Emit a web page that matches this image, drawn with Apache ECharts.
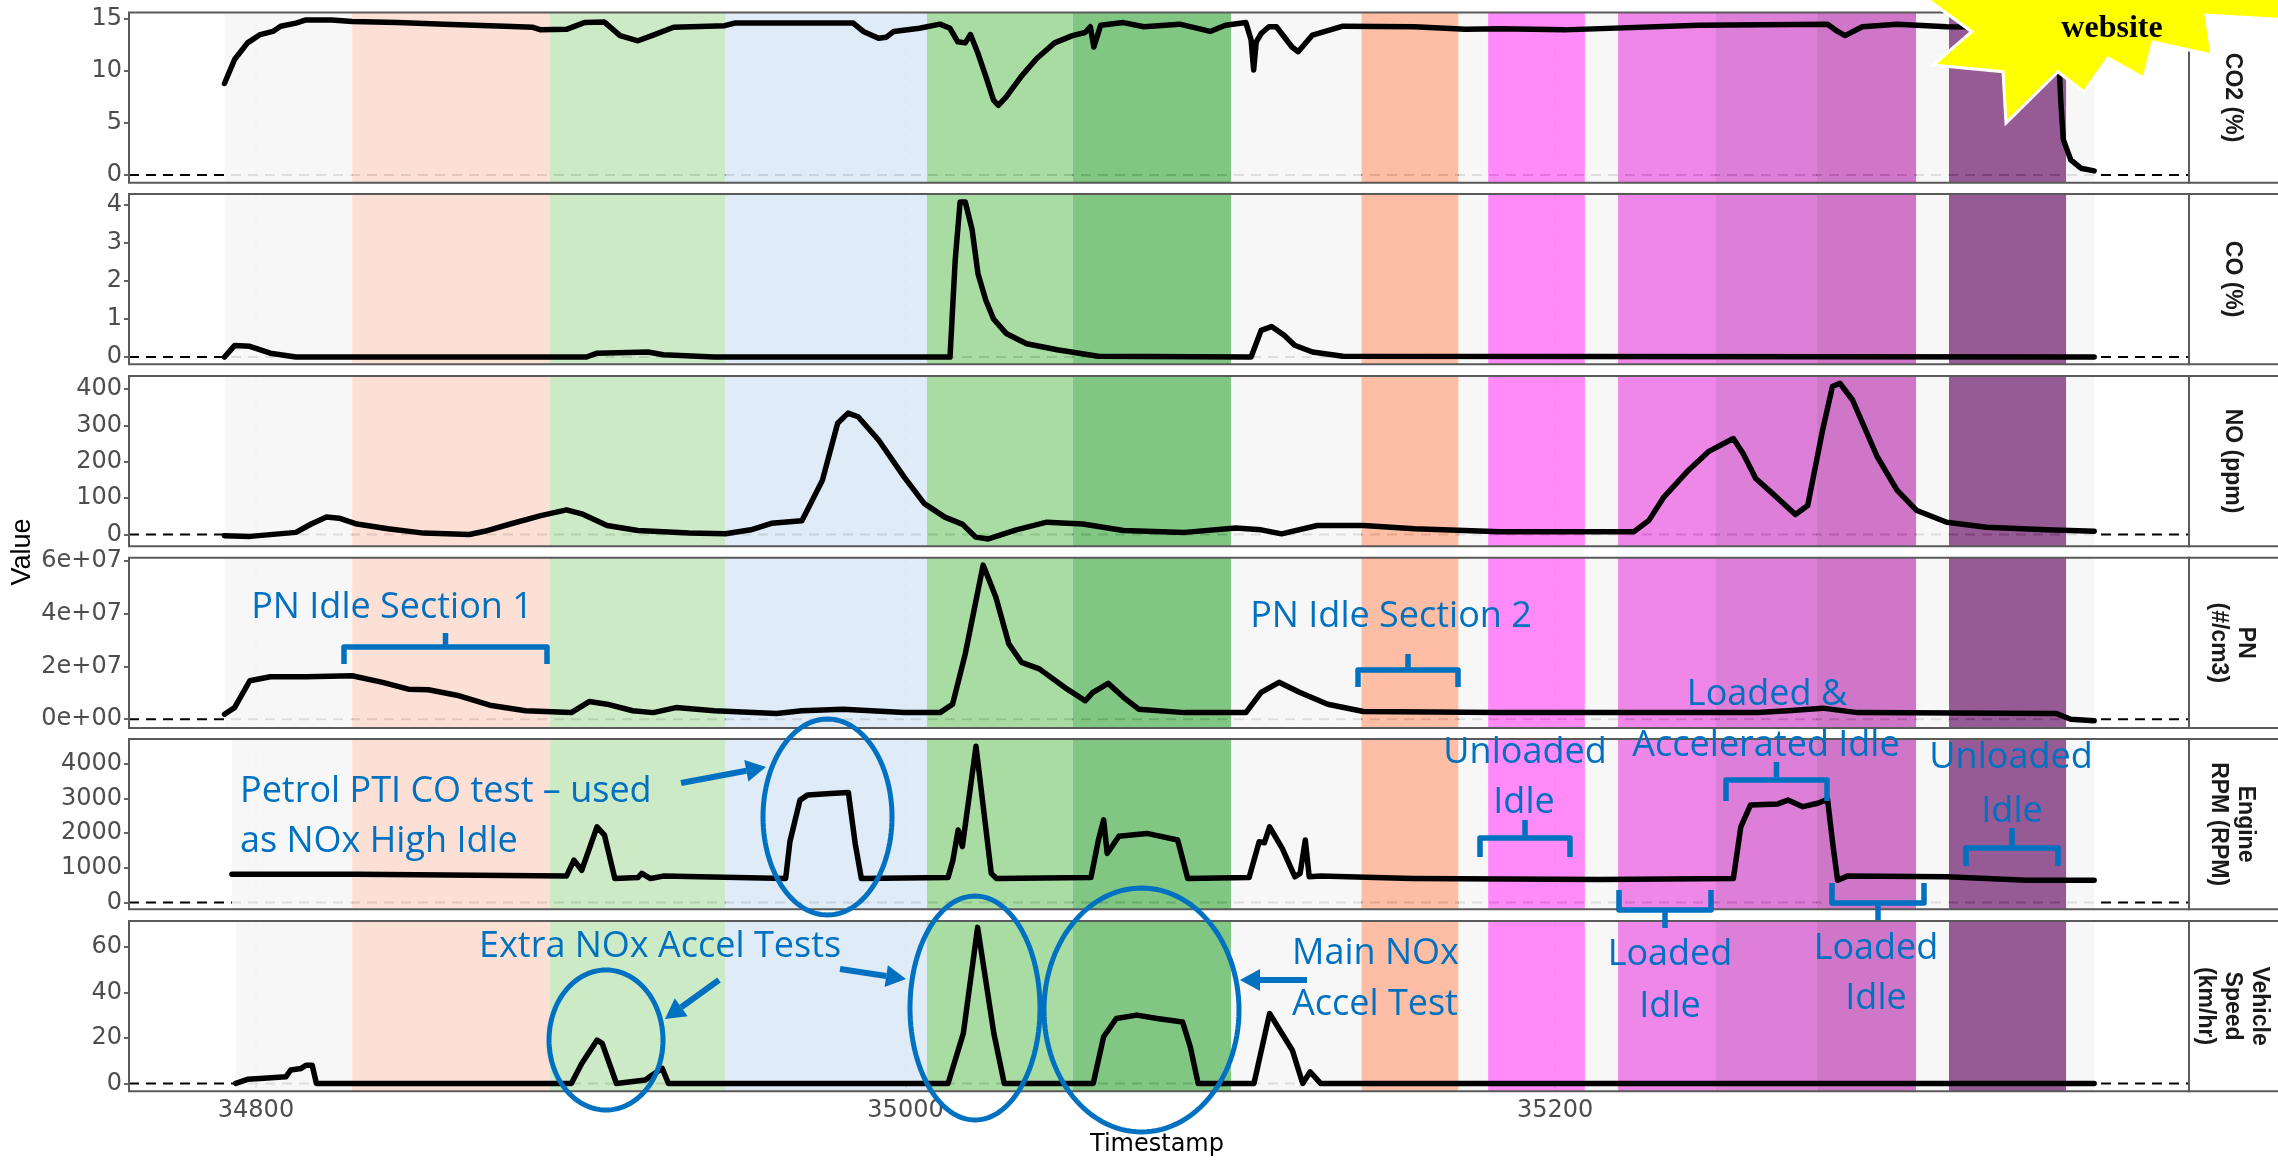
<!DOCTYPE html>
<html>
<head>
<meta charset="utf-8">
<title>Emissions test trace</title>
<script src="https://cdn.jsdelivr.net/npm/echarts@6.0.0/dist/echarts.min.js"></script>
<style>
  html, body { margin: 0; padding: 0; background: #ffffff; }
  #chart { width: 2278px; height: 1161px; }
</style>
</head>
<body>
<div id="chart"></div>
<script>
// ---------- data ----------
const timeRange = [34760.9, 35395.2];
const timeTicks = [34800, 35000, 35200];

// test phases (timestamp start / end) and their fills
const phaseStart = [34829.6, 34890.5, 34944.6, 35006.6, 35051.5, 35140.4, 35179.4, 35219.4, 35249.3, 35280.4, 35321.3];
const phaseEnd   = [34890.5, 34944.6, 35006.6, 35051.5, 35100.3, 35170.3, 35209.2, 35249.3, 35280.4, 35311.2, 35357.4];
const phaseColor = ['#FDDDD0', '#C6E8BF', '#DBE9F6', '#9FD898', '#73C176', '#FDB79B', '#FF7DF7', '#ED7AE5', '#D970D4', '#CB67C2', '#8B488A'];
const gapColor = '#F6F6F6';

// [timestamp, value]
const co2 = [
  [34790.3, 8.8], [34793.4, 11.1], [34797.4, 12.7], [34801.3, 13.5], [34805.2, 13.8], [34807.6, 14.3],
  [34812.3, 14.6], [34815.4, 14.9], [34823.3, 14.9], [34829.6, 14.75], [34843.7, 14.65], [34857.9, 14.5],
  [34876.7, 14.3], [34885.3, 14.2], [34887.7, 13.95], [34895.6, 14.0], [34901.1, 14.65], [34907.3, 14.7],
  [34912.1, 13.4], [34917.6, 12.9], [34922.3, 13.45], [34928.6, 14.2], [34944.3, 14.35], [34947.4, 14.6],
  [34983.9, 14.6], [34987.0, 13.8], [34991.7, 13.15], [34994.1, 13.25], [34996.4, 13.8], [35004.3, 14.1],
  [35010.6, 14.5], [35013.7, 14.1], [35016.1, 12.8], [35018.4, 12.7], [35020.0, 13.5], [35022.3, 11.7],
  [35024.7, 9.5], [35027.1, 7.2], [35028.6, 6.7], [35031.0, 7.5], [35035.7, 9.5], [35040.4, 11.2],
  [35045.9, 12.7], [35051.4, 13.4], [35055.3, 13.7], [35056.9, 14.25], [35058.0, 12.3], [35060.1, 14.4],
  [35067.1, 14.65], [35073.4, 14.25], [35084.4, 14.5], [35093.8, 13.8], [35098.5, 14.4], [35104.8, 14.65],
  [35106.4, 13.0], [35107.2, 10.1], [35108.0, 12.8], [35109.5, 13.6], [35111.9, 14.25], [35114.2, 14.25],
  [35119.0, 12.3], [35120.9, 11.85], [35125.3, 13.45], [35134.7, 14.3], [35156.7, 14.25], [35172.4, 14.0],
  [35183.1, 14.05], [35202.9, 13.95], [35244.2, 14.4], [35283.9, 14.5], [35287.0, 13.8], [35289.3, 13.4],
  [35294.6, 14.25], [35305.3, 14.5], [35320.6, 14.25], [35343.5, 14.2], [35353.5, 14.0], [35355.0, 12.0],
  [35355.7, 7.2], [35356.5, 3.4], [35358.8, 1.45], [35361.9, 0.65], [35366.0, 0.4]
];
const co = [
  [34790.3, 0.0], [34793.4, 0.3], [34798.1, 0.28], [34804.4, 0.1], [34812.3, 0.0], [34901.8, 0.0],
  [34905.0, 0.1], [34920.7, 0.13], [34925.4, 0.06], [34941.1, 0.0], [35013.7, 0.0], [35015.3, 2.55],
  [35016.8, 4.08], [35018.4, 4.08], [35020.5, 3.35], [35022.3, 2.2], [35024.7, 1.5], [35027.1, 1.0],
  [35031.0, 0.62], [35037.3, 0.35], [35046.7, 0.19], [35059.3, 0.02], [35106.4, 0.0], [35109.5, 0.7],
  [35112.7, 0.8], [35116.6, 0.57], [35119.8, 0.31], [35125.3, 0.13], [35134.7, 0.02], [35366.0, 0.0]
];
const no = [
  [34790.3, -3], [34798.2, -5], [34812.3, 6], [34817.0, 29], [34821.7, 48], [34825.6, 45], [34831.1, 29],
  [34840.6, 16], [34851.6, 4], [34865.7, 0], [34870.4, 9], [34878.3, 29], [34887.7, 52], [34895.6, 68],
  [34900.3, 57], [34908.1, 25], [34917.6, 11], [34933.3, 4], [34944.6, 2], [34952.4, 13], [34958.7, 31],
  [34968.1, 38], [34974.4, 149], [34979.1, 306], [34982.3, 334], [34985.4, 324], [34991.7, 260],
  [34999.6, 158], [35005.8, 85], [35012.1, 48], [35017.6, 28], [35021.6, -7], [35025.5, -12],
  [35034.1, 13], [35043.5, 34], [35054.6, 29], [35067.1, 11], [35086.0, 6], [35101.7, 18], [35109.5, 13],
  [35115.8, 2], [35126.8, 25], [35141.0, 25], [35156.7, 16], [35183.1, 8], [35224.3, 8], [35228.9, 39],
  [35233.5, 103], [35241.1, 177], [35247.2, 228], [35254.9, 264], [35257.9, 223], [35261.8, 154],
  [35267.1, 112], [35274.0, 55], [35277.8, 80], [35282.4, 288], [35285.4, 407], [35287.7, 416],
  [35291.6, 370], [35299.2, 214], [35305.3, 122], [35311.4, 66], [35320.6, 34], [35332.8, 20],
  [35351.2, 13], [35366.0, 9]
];
const pn = [
  [34790.3, 1.9e6], [34793.4, 4.4e6], [34798.1, 1.46e7], [34804.4, 1.61e7], [34815.4, 1.61e7], [34829.6, 1.65e7],
  [34839.0, 1.4e7], [34846.9, 1.14e7], [34853.1, 1.12e7], [34862.6, 8.9e6], [34872.0, 5.3e6], [34883.0, 3.2e6],
  [34897.1, 2.5e6], [34902.6, 6.7e6], [34908.1, 5.7e6], [34916.0, 3.2e6], [34922.3, 2.5e6], [34929.3, 4.4e6],
  [34941.1, 3.2e6], [34960.3, 2.2e6], [34968.1, 3.2e6], [34980.7, 3.8e6], [34999.6, 2.5e6], [35010.6, 2.5e6],
  [35014.5, 5.7e6], [35018.4, 2.48e7], [35023.9, 5.85e7], [35027.8, 4.64e7], [35031.8, 2.86e7], [35035.7, 2.16e7],
  [35041.2, 1.91e7], [35049.8, 1.14e7], [35055.3, 7.0e6], [35057.7, 1.02e7], [35062.4, 1.36e7], [35067.1, 8.3e6],
  [35071.8, 3.8e6], [35086.0, 2.5e6], [35104.8, 2.5e6], [35109.5, 1.02e7], [35115.0, 1.4e7], [35121.3, 1.02e7],
  [35130.0, 5.7e6], [35141.0, 2.9e6], [35183.1, 2.5e6], [35262.5, 2.5e6], [35271.7, 3.2e6], [35282.4, 4.2e6],
  [35293.1, 2.5e6], [35354.2, 2.2e6], [35358.8, 0], [35366.0, -6e5]
];
const rpm = [
  [34792.6, 817], [34831.1, 817], [34895.6, 760], [34897.9, 1220], [34900.3, 930], [34905.0, 2180],
  [34907.3, 1940], [34910.5, 690], [34917.6, 720], [34918.8, 840], [34921.5, 690], [34925.4, 760],
  [34963.1, 690], [34964.4, 1750], [34967.5, 2950], [34969.9, 3100], [34976.9, 3140], [34982.4, 3170],
  [34984.5, 1700], [34986.4, 690], [35013.1, 720], [35014.6, 1220], [35016.2, 2090], [35017.5, 1610],
  [35021.7, 4500], [35026.4, 840], [35028.0, 690], [35057.1, 720], [35059.4, 1800], [35061.0, 2380],
  [35062.1, 1410], [35065.7, 1910], [35074.3, 1990], [35083.8, 1800], [35086.9, 690], [35105.8, 720],
  [35108.9, 1750], [35110.5, 1720], [35112.1, 2180], [35116.0, 1560], [35119.9, 740], [35121.5, 840],
  [35123.1, 1800], [35124.3, 740], [35127.8, 760], [35156.0, 690], [35213.6, 660], [35254.9, 690],
  [35257.2, 2180], [35260.2, 2810], [35268.6, 2840], [35271.7, 2950], [35276.3, 2760], [35280.9, 2860],
  [35283.9, 2970], [35285.5, 1700], [35287.0, 640], [35290.0, 760], [35320.6, 740], [35345.1, 640],
  [35366.0, 640]
];
const speed = [
  [34793.8, 0], [34797.4, 1.8], [34801.3, 2.2], [34809.2, 2.9], [34810.7, 5.9], [34813.9, 6.6],
  [34815.4, 8.0], [34817.3, 8.0], [34818.6, 0], [34897.1, 0], [34900.3, 8.8], [34905.0, 19.0],
  [34906.6, 17.6], [34911.0, 0], [34919.9, 1.5], [34922.0, 3.7], [34925.1, 6.6], [34927.0, 0],
  [35013.1, 0], [35017.8, 22], [35022.2, 68.5], [35027.2, 22], [35030.4, 0], [35057.8, 0],
  [35061.0, 20.5], [35064.9, 28.5], [35071.2, 30], [35077.5, 28.5], [35085.3, 27], [35087.7, 16],
  [35090.1, 0], [35107.3, 0], [35112.1, 30.7], [35119.1, 14.6], [35122.3, 0], [35124.6, 5.1],
  [35127.8, 0], [35366.0, 0]
];

// tick labels per panel
const co2Ticks = [0, 5, 10, 15];
const coTicks = [0, 1, 2, 3, 4];
const noTicks = [0, 100, 200, 300, 400];
const pnTicks = [0, 2e7, 4e7, 6e7];
const rpmTicks = [0, 1000, 2000, 3000, 4000];
const speedTicks = [0, 20, 40, 60];

const plain = v => String(v);
const panels = [
  { label: 'CO2 (%)', data: co2, ticks: co2Ticks, range: [-0.74, 15.62], fmt: plain },
  { label: 'CO (%)', data: co, ticks: coTicks, range: [-0.19, 4.29], fmt: plain },
  { label: 'NO (ppm)', data: no, ticks: noTicks, range: [-32, 436], fmt: plain },
  { label: 'PN\n(#/cm3)', data: pn, ticks: pnTicks, range: [-3.3e6, 6.13e7],
    fmt: v => (v === 0 ? '0e+00' : (v / 1e7) + 'e+07') },
  { label: 'Engine\nRPM (RPM)', data: rpm, ticks: rpmTicks, range: [-193, 4710], fmt: plain },
  { label: 'Vehicle\nSpeed\n(km/hr)', data: speed, ticks: speedTicks, range: [-3.4, 71.3], fmt: plain }
];

// ---------- layout ----------
const PLOT_LEFT = 129, PLOT_RIGHT = 2189, PANEL_H = 170.2;
const panelTops = [12.5, 194, 376, 557.7, 739, 921];
const BORDER = '#5a5a5a';
const ANNOT = '#0070C0';
const tickText = { fontFamily: 'DejaVu Sans', fontSize: 24, color: '#4D4D4D' };

function rgba(hex, a) {
  const n = parseInt(hex.slice(1), 16);
  return 'rgba(' + (n >> 16) + ',' + ((n >> 8) & 255) + ',' + (n & 255) + ',' + a + ')';
}

// background layers of one panel: faint vertical guides, zero line, phase bands
function buildLayers(data) {
  const first = data[0][0], last = data[data.length - 1][0];
  const L = timeTicks.map(t => ({ kind: 'v', s: t }));
  L.push({ kind: 'h', s: timeRange[0] });
  let cursor = first;
  phaseStart.forEach((s, k) => {
    if (s > cursor) L.push({ kind: 'band', s: cursor, e: s, color: gapColor });
    L.push({ kind: 'band', s: s, e: phaseEnd[k], color: phaseColor[k] });
    cursor = Math.max(cursor, phaseEnd[k]);
  });
  if (last > cursor) L.push({ kind: 'band', s: cursor, e: last, color: gapColor });
  return L;
}

function drawLayer(L, params, api) {
  const cs = params.coordSys;
  if (L.kind === 'v') {
    const x = api.coord([L.s, 0])[0];
    return { type: 'line', shape: { x1: x, y1: cs.y, x2: x, y2: cs.y + cs.height },
      style: { stroke: '#cfcfcf', lineWidth: 1.5, lineDash: [6, 6] } };
  }
  if (L.kind === 'h') {
    const y = api.coord([timeRange[0], 0])[1];
    return { type: 'line', shape: { x1: cs.x, y1: y, x2: cs.x + cs.width, y2: y },
      style: { stroke: '#000', lineWidth: 2, lineDash: [10, 7] } };
  }
  const x0 = api.coord([L.s, 0])[0], x1 = api.coord([L.e, 0])[0];
  return { type: 'rect', shape: { x: x0, y: cs.y, width: x1 - x0, height: cs.height },
    style: { fill: rgba(L.color, 0.9) } };
}

const grids = [], xAxes = [], yAxes = [], series = [];
panels.forEach((p, i) => {
  const bottom = i === panels.length - 1;
  grids.push({ left: PLOT_LEFT, top: panelTops[i], width: PLOT_RIGHT - PLOT_LEFT, height: PANEL_H,
    show: false, containLabel: false, outerBoundsMode: 'none' });
  xAxes.push({ type: 'value', gridIndex: i, min: timeRange[0], max: timeRange[1],
    axisLine: { show: false }, splitLine: { show: false },
    axisTick: { show: bottom, customValues: timeTicks, length: 5, lineStyle: { color: '#333', width: 1.5 } },
    axisLabel: { show: bottom, customValues: timeTicks, margin: 8, formatter: plain, ...tickText } });
  yAxes.push({ type: 'value', gridIndex: i, min: p.range[0], max: p.range[1],
    axisLine: { show: false }, splitLine: { show: false },
    axisTick: { show: true, customValues: p.ticks, length: 5, lineStyle: { color: '#333', width: 1.5 } },
    axisLabel: { customValues: p.ticks, margin: 7, formatter: p.fmt, ...tickText } });
  const layers = buildLayers(p.data);
  series.push({ type: 'custom', xAxisIndex: i, yAxisIndex: i, z: 1, silent: true,
    data: layers.map(l => [l.s, 0]),
    renderItem: (params, api) => drawLayer(layers[params.dataIndex], params, api) });
  series.push({ type: 'line', xAxisIndex: i, yAxisIndex: i, z: 3, silent: true, data: p.data,
    showSymbol: false, symbol: 'none',
    lineStyle: { color: '#000', width: 5.5, join: 'round', cap: 'round' } });
});

// ---------- overlays ----------
const graphic = [];
function txt(text, x, y, opts) {
  graphic.push(Object.assign({ type: 'text', x: x, y: y, z: 100, silent: true,
    style: Object.assign({ text: text, fill: '#000', fontFamily: 'Liberation Sans', fontSize: 20,
      align: 'center', textAlign: 'center', verticalAlign: 'middle', textVerticalAlign: 'middle' }, opts.style || {}) },
    opts.el || {}));
}

// panel frames and facet strips
panelTops.forEach((top, i) => {
  graphic.push({ type: 'rect', z: 90, silent: true,
    shape: { x: PLOT_LEFT, y: top, width: PLOT_RIGHT - PLOT_LEFT, height: PANEL_H },
    style: { fill: 'none', stroke: BORDER, lineWidth: 2 } });
  graphic.push({ type: 'rect', z: 90, silent: true,
    shape: { x: PLOT_RIGHT, y: top, width: 140, height: PANEL_H },
    style: { fill: '#fff', stroke: BORDER, lineWidth: 2 } });
  txt(panels[i].label, 2232, top + PANEL_H / 2, {
    style: { fontSize: 23, fontWeight: 'bold', lineHeight: 27, fill: '#1a1a1a' },
    el: { rotation: -Math.PI / 2 } });
});

// axis titles
txt('Value', 23, 552, { style: { fontSize: 27 }, el: { rotation: Math.PI / 2 } });
txt('Timestamp', 1157, 1145, { style: { fontFamily: 'DejaVu Sans', fontSize: 24 } });

// annotation text
const notes = [
  ['PN Idle Section 1', 392, 608, 'center'],
  ['PN Idle Section 2', 1391, 617, 'center'],
  ['Unloaded', 1525, 753, 'center'], ['Idle', 1524, 803, 'center'],
  ['Loaded &', 1767, 695, 'center'], ['Accelerated Idle', 1766, 746, 'center'],
  ['Unloaded', 2011, 758, 'center'], ['Idle', 2012, 812, 'center'],
  ['Loaded', 1670, 955, 'center'], ['Idle', 1670, 1007, 'center'],
  ['Loaded', 1876, 949, 'center'], ['Idle', 1876, 999, 'center'],
  ['Petrol PTI CO test \u2013 used', 240, 792, 'left'], ['as NOx High Idle', 240, 842, 'left'],
  ['Extra NOx Accel Tests', 479, 947, 'left'],
  ['Main NOx', 1292, 954, 'left'], ['Accel Test', 1292, 1005, 'left']
];
notes.forEach(n => txt(n[0], n[1], n[2], {
  style: { fontFamily: 'Open Sans', fontSize: 36, fill: ANNOT, align: n[3], textAlign: n[3] } }));

// braces: x1, x2, bar y, end tick length (signed), centre nub length (signed)
const braces = [
  [344, 547, 647, 17, -14], [1358, 1458, 670, 17, -16], [1480, 1570, 838, 19, -18],
  [1726, 1827, 780, 21, -18], [1966, 2058, 848, 18, -20], [1619, 1711, 910, -20, 18],
  [1832, 1924, 903, -20, 17]
];
braces.forEach(b => {
  const [x1, x2, y, t, nub] = b, cx = (x1 + x2) / 2;
  graphic.push({ type: 'polyline', z: 100, silent: true,
    shape: { points: [[x1, y + t], [x1, y], [x2, y], [x2, y + t]] },
    style: { stroke: ANNOT, lineWidth: 5.5, fill: 'none', lineJoin: 'round' } });
  graphic.push({ type: 'line', z: 100, silent: true, shape: { x1: cx, y1: y, x2: cx, y2: y + nub },
    style: { stroke: ANNOT, lineWidth: 5.5 } });
});

// ellipses: cx, cy, rx, ry
const rings = [[827.5, 817, 64.5, 98], [606, 1040, 57, 70], [975, 1008, 65, 112], [1141.5, 1010, 97.5, 122]];
rings.forEach(r => {
  const pts = [];
  for (let k = 0; k < 120; k++) {
    const a = k / 120 * Math.PI * 2;
    pts.push([r[0] + r[2] * Math.cos(a), r[1] + r[3] * Math.sin(a)]);
  }
  graphic.push({ type: 'polygon', z: 100, silent: true, shape: { points: pts },
    style: { fill: 'none', stroke: ANNOT, lineWidth: 5 } });
});

// arrows: from (x1,y1) to tip (x2,y2)
const arrows = [[681, 783, 766, 767], [719, 980, 665, 1019], [840, 969, 906, 979], [1307, 980, 1240, 980]];
arrows.forEach(a => {
  const [x1, y1, x2, y2] = a;
  const len = Math.hypot(x2 - x1, y2 - y1), dx = (x2 - x1) / len, dy = (y2 - y1) / len;
  const hl = 20, hw = 11, bx = x2 - dx * hl, by = y2 - dy * hl;
  graphic.push({ type: 'line', z: 100, silent: true, shape: { x1: x1, y1: y1, x2: bx, y2: by },
    style: { stroke: ANNOT, lineWidth: 6 } });
  graphic.push({ type: 'polygon', z: 100, silent: true,
    shape: { points: [[x2, y2], [bx - dy * hw, by + dx * hw], [bx + dy * hw, by - dx * hw]] },
    style: { fill: ANNOT } });
});

// starburst badge
graphic.push({ type: 'polygon', z: 110, silent: true,
  shape: { points: [[1912, -12], [1971.7, 31.7], [1933, 65], [2003, 71.7], [2006, 123], [2058, 71.7],
    [2084, 92], [2108, 58], [2144, 78], [2153, 42], [2212, 55], [2206, 15], [2290, 20], [2290, -12]] },
  style: { fill: '#FFFF00', stroke: '#ffffff', lineWidth: 3, lineJoin: 'miter' } });
txt('website', 2112, 29, { style: { fontFamily: 'Liberation Serif', fontWeight: 'bold', fontSize: 32 },
  el: { z: 120 } });

const chart = echarts.init(document.getElementById('chart'), null, { width: 2278, height: 1161 });
chart.setOption({
  animation: false,
  backgroundColor: '#ffffff',
  grid: grids,
  xAxis: xAxes,
  yAxis: yAxes,
  series: series,
  graphic: { elements: graphic }
});
</script>
</body>
</html>
